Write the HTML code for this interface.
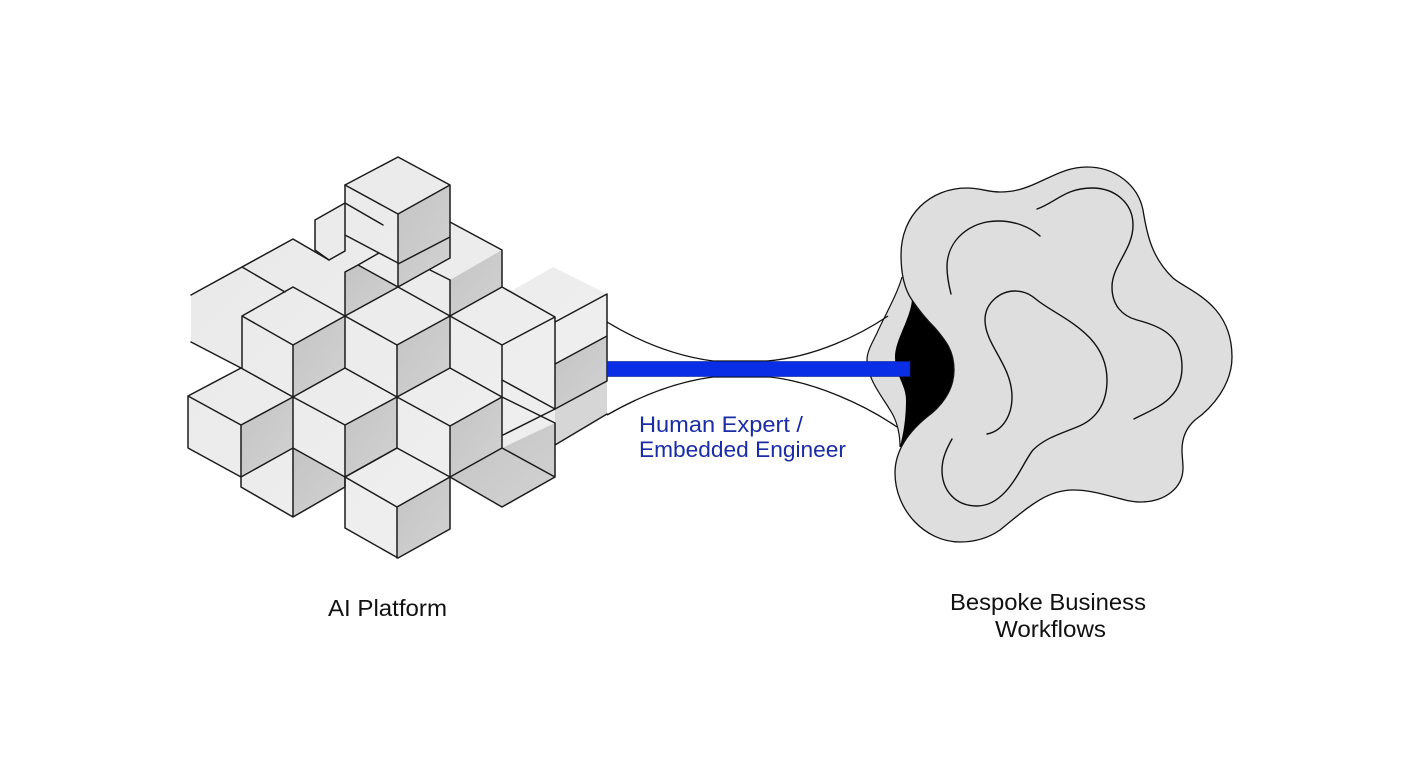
<!DOCTYPE html>
<html>
<head>
<meta charset="utf-8">
<style>
html,body{margin:0;padding:0;background:#fff;width:1408px;height:768px;overflow:hidden}
svg{display:block}
text{font-family:"Liberation Sans",sans-serif}
</style>
</head>
<body>
<svg width="1408" height="768" viewBox="0 0 1408 768" xmlns="http://www.w3.org/2000/svg">
<defs>
<linearGradient id="sh" x1="0" y1="0" x2="1" y2="1"><stop offset="0" stop-color="#c4c4c4"/><stop offset="1" stop-color="#d2d2d2"/></linearGradient>
<linearGradient id="lt" x1="0" y1="0" x2="1" y2="1"><stop offset="0" stop-color="#e9e9e9"/><stop offset="1" stop-color="#f0f0f0"/></linearGradient>
</defs>
<rect width="1408" height="768" fill="#fff"/>

<!-- cube stack fills -->
<polygon fill="url(#lt)" points="191,295 293,239 315,252 315,220 345,203 345,185 398,157 450,185 450,222 502,250 502,287 513,290 553,267 607,294 607,381 607,414 555,445 555,477 502,507 450,477 450,529 398,558 345,528 345,487 293,517 241,487 241,477 188,448 188,396 241,368 191,342"/>
<g fill="url(#sh)">
<polygon points="398,214 450,185 450,258 398,287"/>
<polygon points="450,280 502,250 502,287 450,316"/>
<polygon points="345,272 358,265 398,287 345,316"/>
<polygon points="293,345 345,316 345,368 293,397"/>
<polygon points="397,345 450,316 450,368 397,397"/>
<polygon points="241,425 293,397 293,448 241,477"/>
<polygon points="345,425 397,397 397,448 345,477"/>
<polygon points="450,426 502,397 502,448 450,477"/>
<polygon points="293,448 345,477 345,487 293,517"/>
<polygon points="502,448 555,423 555,477 502,507 450,477"/>
<polygon points="397,506 450,477 450,529 397,558"/>
<polygon points="555,364 607,336 607,381 555,409"/>
</g>
<polygon fill="#d6d6d6" points="555,409 607,381 607,414 555,445"/>

<!-- cube stack lines -->
<g fill="none" stroke="#1c1c1c" stroke-width="1.5" stroke-linejoin="round" stroke-linecap="round">
<path d="M345 185 L398 157 L450 185 L398 214 Z M398 214 V287 M450 185 V258 L398 287 M398 264 L450 237"/>
<path d="M345 185 V251 M345 235 L398 263 M345 203 L383 225 M345 203 L315 220 V250 L329 260 L345 251"/>
<path d="M345 316 V272 L358 265 L379 253 M358 265 L398 287"/>
<path d="M191 295 L293 239 L329 260 M242 267 L285 292 M191 342 L241 368"/>
<path d="M242 316 L293 287 L345 316 L293 345 Z M242 316 V368 M293 345 V397 M345 316 V368"/>
<path d="M345 316 L398 287 L450 316 L397 345 Z M397 345 V397 M450 280 V368 M430 270 L450 280"/>
<path d="M450 222 L502 250 V287 M450 316 L502 287 L555 317 L502 345 Z M502 345 V397 M555 317 V409"/>
<path d="M555 322 L607 294 V381 L555 409 M555 364 L607 336 M502 380 L555 409"/>
<path d="M502 397 L555 423 V477 L502 507 L450 477 L502 448 L555 477 M502 397 V448 M503 435 L555 409 M555 445 L607 414"/>
<path d="M188 396 L241 368 L293 397 L241 425 Z M188 396 V448 L241 477 M241 425 V487 L293 517 L345 487 V477 M241 477 L293 448 L345 477 M293 397 V517"/>
<path d="M293 397 L345 368 L397 397 L345 425 Z M345 425 V477 M397 397 V448 L345 477"/>
<path d="M397 397 L450 368 L502 397 L450 426 Z M450 426 V477"/>
<path d="M345 477 L397 448 L450 477 L397 507 Z M345 477 V528 L398 558 L450 529 V477 M397 507 V558"/>
</g>

<!-- lobe behind blob -->
<path d="M902 277 C897 295 885 315 877 333 C871 345 867 352 867 360 C867 380 885 400 893 415 C898 425 900 435 900 447 L960 440 L960 280 Z" fill="#dedede"/>
<path d="M902 277 C897 295 885 315 877 333 C871 345 867 352 867 360 C867 380 885 400 893 415 C898 425 900 435 900 447" fill="none" stroke="#111" stroke-width="1.2"/>

<!-- connector curves -->
<g fill="none" stroke="#111" stroke-width="1.3">
<path d="M607 322 C640 342 675 356 713 361 L767 361 C815 357 860 335 888 316"/>
<path d="M607 415 C640 396 675 382 713 377 L770 377 C815 382 865 405 897 427"/>
</g>

<!-- black hollow -->
<path d="M912 300 C910 320 895 340 895 357 C895 375 906 385 906 400 C906 420 903 435 900 447 L965 440 L975 360 L955 290 Z" fill="#000"/>

<!-- blob -->
<path d="M912 300 C905 290 901 275 901 255 C901 215 930 188 967 188 C980 188 988 192 1000 192 C1015 192 1026 188 1037 183 C1055 175 1068 167 1087 167 C1115 167 1138 185 1143 210 C1147 235 1152 258 1173 278 C1188 291 1232 303 1232 357 C1232 385 1212 408 1195 420 C1186 428 1182 438 1182 450 C1182 456 1183 462 1183 468 C1183 488 1165 502 1140 502 C1122 502 1100 490 1073 490 C1045 490 1025 510 1000 530 C987 539 972 542 960 542 C925 542 895 510 895 473 C895 448 912 428 932 413 C945 402 954 387 954 370 C954 350 945 340 935 328 C925 318 918 309 912 300 Z" fill="#dedede" stroke="#111" stroke-width="1.3"/>
<g fill="none" stroke="#111" stroke-width="1.4" stroke-linecap="round">
<path d="M1037 209 C1055 203 1065 188 1092 188 C1115 188 1133 203 1133 225 C1133 250 1112 265 1112 287 C1112 305 1122 316 1137 320 C1160 326 1182 335 1182 367 C1182 400 1155 408 1134 419"/>
<path d="M951 294 C948 282 947 274 947 267 C947 240 970 221 998 221 C1015 221 1030 227 1040 236"/>
<path d="M987 434 C1003 431 1012 415 1012 397 C1012 365 985 345 985 320 C985 303 1000 291 1015 291 C1025 291 1031 295 1037 300 C1058 317 1107 333 1107 380 C1107 405 1095 420 1077 427 C1060 434 1045 438 1033 450 C1022 463 1008 506 977 506 C955 506 942 490 942 470 C942 458 947 448 952 439"/>
</g>

<!-- blue bar -->
<rect x="607" y="361.5" width="303" height="15" fill="#0a2de6" stroke="#0b1f8c" stroke-width="0.6"/>

<!-- labels -->
<text x="328" y="616" font-size="23" fill="#111" textLength="119" lengthAdjust="spacingAndGlyphs">AI Platform</text>
<text x="950" y="610" font-size="23" fill="#111" textLength="196" lengthAdjust="spacingAndGlyphs">Bespoke Business</text>
<text x="995" y="637" font-size="23" fill="#111" textLength="111" lengthAdjust="spacingAndGlyphs">Workflows</text>
<text x="639" y="432" font-size="22" fill="#1a2ca6" textLength="164" lengthAdjust="spacingAndGlyphs">Human Expert /</text>
<text x="639" y="457" font-size="22" fill="#1a2ca6" textLength="207" lengthAdjust="spacingAndGlyphs">Embedded Engineer</text>
</svg>
</body>
</html>
